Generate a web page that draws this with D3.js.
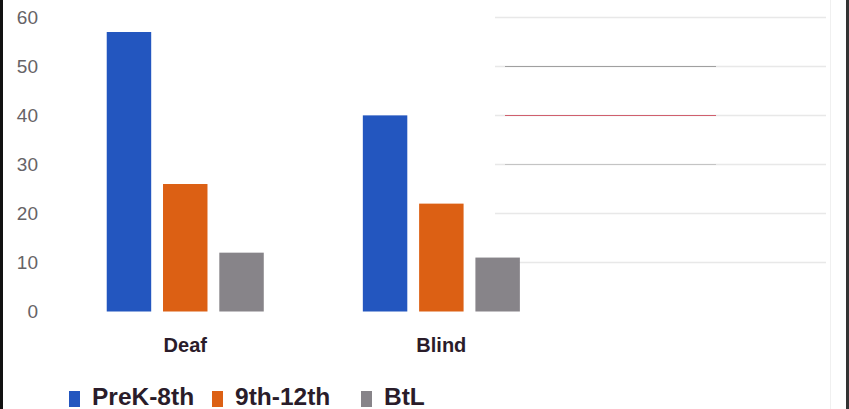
<!DOCTYPE html>
<html lang="en">
	<head>
		<meta charset="utf-8">
		<title>Deaf / Blind bar chart</title>
		<script type="text/javascript" src="https://cdn.jsdelivr.net/npm/d3@7"></script>
		<style type="text/css">
			body { margin: 0; background: #fff; }
			svg { display: block; }
		</style>
	</head>
	<body>
		<script type="text/javascript">
			//Width and height
			var w = 849;
			var h = 409;

			// data
			var groups = ["Deaf", "Blind"];
			var series = ["PreK-8th", "9th-12th", "BtL"];
			var prek = [57, 40];
			var ninth = [26, 22];
			var btl = [12, 11];
			var yTicks = [0, 10, 20, 30, 40, 50, 60];

			var values = [prek, ninth, btl];
			var colors = ["#2356bf", "#dc6014", "#878489"];

			var svg = d3.select("body")
						.append("svg")
						.attr("width", w)
						.attr("height", h);

			var x0 = d3.scaleBand()
						.domain(groups)
						.range([57.2, 569.4]);

			var x1 = d3.scaleBand()
						.domain(series)
						.range([0, x0.bandwidth()])
						.paddingInner(0.21)
						.paddingOuter(0.88);

			var y = d3.scaleLinear()
						.domain([0, 60])
						.range([311.5, 17.3]);

			// faint leftover gridlines on the right side
			svg.selectAll("line.ghost")
				.data(yTicks.filter(function(d) { return d > 0; }))
				.enter()
				.append("line")
				.attr("class", "ghost")
				.attr("x1", 495)
				.attr("x2", 826)
				.attr("y1", function(d) { return Math.round(y(d)) + 0.5; })
				.attr("y2", function(d) { return Math.round(y(d)) + 0.5; })
				.style("stroke", "#e8e8e8")
				.style("stroke-width", 1.5);

			svg.selectAll("line.ghost2")
				.data([50, 40, 30])
				.enter()
				.append("line")
				.attr("class", "ghost2")
				.attr("x1", 505)
				.attr("x2", 716)
				.attr("y1", function(d) { return Math.round(y(d)) + 0.5; })
				.attr("y2", function(d) { return Math.round(y(d)) + 0.5; })
				.style("stroke", function(d) { return d == 40 ? "#d0606e" : (d == 50 ? "#a0a0a0" : "#c4c4c4"); })
				.style("stroke-width", 1);

			// y tick labels
			svg.selectAll("text.ytick")
				.data(yTicks)
				.enter()
				.append("text")
				.attr("class", "ytick")
				.attr("x", 38)
				.attr("y", function(d) { return y(d); })
				.attr("dy", "0.35em")
				.attr("text-anchor", "end")
				.style("font-family", "'Liberation Sans', Arial, sans-serif")
				.style("font-size", "19px")
				.style("fill", "#666366")
				.text(function(d) { return d; });

			// bars
			var g = svg.selectAll("g.group")
						.data(groups)
						.enter()
						.append("g")
						.attr("class", "group")
						.attr("transform", function(d) { return "translate(" + x0(d) + ",0)"; });

			g.selectAll("rect")
				.data(function(d, i) {
					return series.map(function(s, j) { return { s: s, v: values[j][i], c: colors[j] }; });
				})
				.enter()
				.append("rect")
				.attr("x", function(d) { return x1(d.s); })
				.attr("y", function(d) { return y(d.v); })
				.attr("width", x1.bandwidth())
				.attr("height", function(d) { return y(0) - y(d.v); })
				.style("fill", function(d) { return d.c; });

			// category labels
			svg.selectAll("text.cat")
				.data(groups)
				.enter()
				.append("text")
				.attr("class", "cat")
				.attr("x", function(d) { return x0(d) + x0.bandwidth() / 2; })
				.attr("y", 352)
				.attr("text-anchor", "middle")
				.style("font-family", "'Liberation Sans', Arial, sans-serif")
				.style("font-size", "20px")
				.style("font-weight", "bold")
				.style("fill", "#2a1c2a")
				.text(function(d) { return d; });

			// legend
			var legendX = [69, 212, 361];
			var leg = svg.selectAll("g.legend")
						.data(series)
						.enter()
						.append("g")
						.attr("class", "legend")
						.attr("transform", function(d, i) { return "translate(" + legendX[i] + ",0)"; });

			leg.append("rect")
				.attr("x", 0)
				.attr("y", 391)
				.attr("width", 11)
				.attr("height", 16)
				.style("fill", function(d, i) { return colors[i]; });

			leg.append("text")
				.attr("x", 23)
				.attr("y", 405)
				.style("font-family", "'Liberation Sans', Arial, sans-serif")
				.style("font-size", "24.5px")
				.style("font-weight", "bold")
				.style("fill", "#2a1c2a")
				.text(function(d) { return d; });

			// frame edges
			svg.append("rect")
				.attr("x", 0).attr("y", 0)
				.attr("width", 3).attr("height", h)
				.style("fill", "#111");
			svg.append("line")
				.attr("x1", 830.5).attr("x2", 830.5)
				.attr("y1", 0).attr("y2", h)
				.style("stroke", "#f0f0f0");
			svg.append("rect")
				.attr("x", 846).attr("y", 0)
				.attr("width", 3).attr("height", h)
				.style("fill", "#333");
		</script>
	</body>
</html>
